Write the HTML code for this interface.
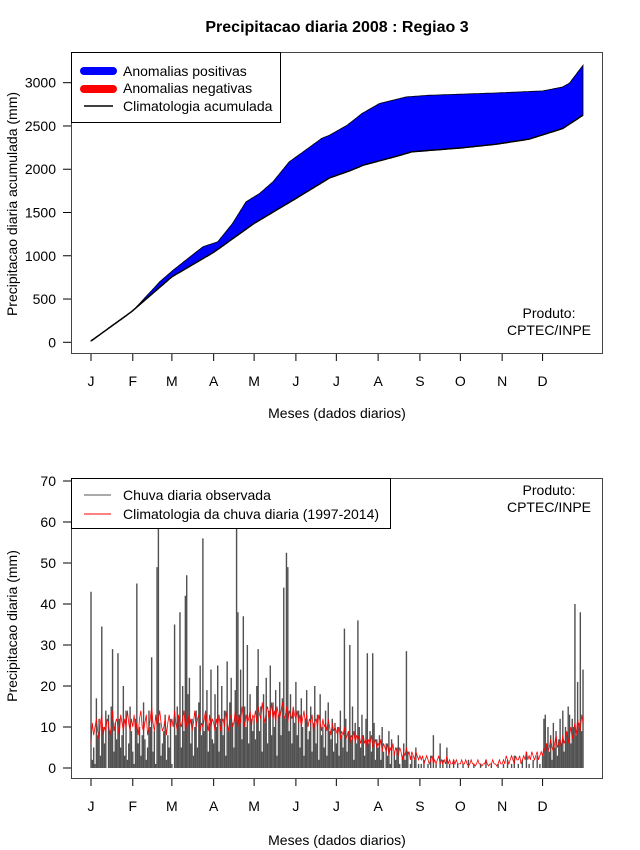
<!DOCTYPE html>
<html><head><meta charset="utf-8">
<style>
html,body{margin:0;padding:0;background:#fff;}
svg{display:block;font-family:"Liberation Sans",sans-serif;}
</style></head>
<body>
<svg id="chart" width="640" height="850" viewBox="0 0 640 850" xmlns="http://www.w3.org/2000/svg">
<rect width="640" height="850" fill="#fff"/>
<text x="337" y="32" text-anchor="middle" font-size="16" font-weight="bold">Precipitacao diaria 2008 : Regiao 3</text>
<g id="topPanel"></g>
<g id="botPanel"></g>
</svg>
<script>
const monthLabels = ["J","F","M","A","M","J","J","A","S","O","N","D"];
const monthStartDays = [1,32,61,92,122,153,183,214,245,275,306,336];
const topTicks = [0,500,1000,1500,2000,2500,3000];
const botTicks = [0,10,20,30,40,50,60,70];
const obsCumDays = [1,28,52,62,72,84,95,106,116,126,136,148,155,172,178,191,202,215,235,252,302,336,351,356,366];
const obsCumVals = [20,296,700,835,958,1104,1162,1374,1624,1720,1855,2086,2163,2356,2394,2509,2644,2760,2836,2855,2882,2905,2951,2997,3202];
const climCumDays = [1,31,61,92,122,153,178,193,203,228,239,276,302,326,351,366];
const climCumVals = [15,353,757,1040,1374,1662,1900,1982,2047,2151,2201,2247,2290,2348,2471,2625];
const obsDaily = [].concat(
[43,2,5,1,17,8,12,3,34.5,10,6,14,0,13,9,15,29,4,11,7,28,12,5,8,20,3,14,2,6,15,9],
[4,1,12,45,6,10,3,8,16,7,2,5,14,10,27,4,9,1,49,72,11,3,6,9,13,2,8,5,12],
[1,0,35,8,15,12,38,5,20,9,42,47,18,22,6,12,3,10,14,5,16,25,8,56,9,13,19,4,11,24,7],
[6,18,10,25,4,12,20,8,14,3,26,9,16,22,11,5,19,72,38,13,24,7,37,15,10,30,6,18,12,9],
[12,7,20,29,9,15,4,18,11,22,6,14,25,8,16,10,19,3,13,21,8,17,44,12,52.5,49,9,18,6,14,11],
[21,8,14,5,17,10,3,12,19,7,9,15,4,11,20,6,13,2,18,8,10,5,14,3,16,9,7,12,4,11],
[6,10,3,14,8,5,34,12,4,9,30,7,15,2,11,6,36,10,5,13,8,3,12,28,6,9,4,28,11,2,7],
[5,8,2,10,4,0,6,3,9,1,7,0,4,2,5,8,1,0,3,6,2,28.5,4,0,1,3,0,2,5,0,1],
[0,1,0,2,0,0,1,0,3,0,8,0,1,0,0,6,0,2,0,0,5,0,1,0,0,2,0,0,1,0],
[0,0,1,0,0,0,2,0,0,0,1,0,0,0,0,1,0,0,0,2,0,0,0,1,0,0,0,0,1,0,0],
[0,1,0,0,2,0,0,1,0,3,0,0,1,0,0,2,0,0,4,0,1,0,0,2,0,0,3,0,1,0],
[3,12,13,6,10,4,8,2,11,5,9,3,7,12,6,14,4,10,8,15,13,6,12,10,40,8,21,11,38,9,24]);
const climDaily = [].concat(
[6,11,8,10,12,9,7,11,13,8,10,9,12,11,8,10,14,9,11,12,10,8,13,11,9,12,10,14,11,9,12],
[10,13,9,11,8,12,14,10,9,11,13,8,10,12,15,11,9,13,10,12,14,11,9,10,12,8,11,13,10],
[12,10,14,11,9,13,11,10,12,14,9,11,13,10,12,9,11,14,10,12,13,9,11,10,12,14,11,9,13,10,12],
[11,9,12,10,13,9,11,12,10,14,11,9,12,13,10,11,14,12,10,13,11,15,12,10,13,11,12,14,10,13],
[12,14,11,15,13,12,16,13,11,14,15,12,13,16,12,14,11,15,13,12,14,16,13,12,15,11,14,13,12,15,13],
[12,14,11,13,10,12,14,11,13,10,12,11,13,9,11,12,10,13,11,9,12,10,11,9,12,10,8,11,9,10],
[9,8,10,7,9,8,10,7,8,9,6,8,7,9,6,8,7,8,6,7,8,6,7,5,7,6,8,5,6,7,5],
[6,5,7,4,6,5,4,6,3,5,4,6,3,5,4,3,5,4,2,4,3,5,3,4,2,4,3,2,4,3,2],
[3,2,3,1,2,3,2,1,2,3,1,2,1,2,3,1,2,1,2,1,3,1,2,1,1,2,1,2,1,1],
[1,2,1,1,2,1,0.5,1,2,1,1,0.5,1,2,1,1,0.5,1,1,2,1,0.5,1,1,2,1,1,0.5,1,2,1],
[1,2,1,3,2,1,2,3,2,1,3,2,2,3,1,2,3,2,4,2,3,2,4,3,2,3,4,2,3,4],
[3,5,4,6,4,5,7,5,4,6,8,5,6,7,5,8,6,7,9,6,8,10,7,9,11,8,12,10,9,13,11]);

const NS="http://www.w3.org/2000/svg";
function mk(parent,tag,attrs,text){const e=document.createElementNS(NS,tag);for(const k in attrs)e.setAttribute(k,attrs[k]);if(text!==undefined)e.textContent=text;parent.appendChild(e);return e;}
const xDay = d => 91 + (d-1)*1.348;
const yTop = v => 342.3 - v*(259.6/3000);
const yBot = v => 768 - v*(287/70);
function interp(days, vals, d){
  for(let i=0;i<days.length-1;i++){ if(d>=days[i]&&d<=days[i+1]){const t=(d-days[i])/(days[i+1]-days[i]);return vals[i]+t*(vals[i+1]-vals[i]);} }
  return vals[vals.length-1];
}
function axes(g, boxBot, ticks, yFn, ylabel, ylabelY, xlabelY){
  for(let i=0;i<monthLabels.length;i++){
    const x=xDay(monthStartDays[i]);
    const t=mk(g,'line',{x1:x,x2:x,y1:boxBot,y2:boxBot+7,stroke:'#000','stroke-width':1});
    
    
    const l=mk(g,'text',{x:x,y:boxBot+32,'text-anchor':'middle','font-size':14},monthLabels[i]);
    
    
  }
  for(const v of ticks){
    const y=yFn(v);
    const t=mk(g,'line',{x1:63,x2:71,y1:y,y2:y,stroke:'#000','stroke-width':1});
    
    
    const l=mk(g,'text',{x:56,y:y+5,'text-anchor':'end','font-size':14},String(v));
    
    
  }
  const yl=mk(g,'text',{x:0,y:0,transform:`translate(17,${ylabelY}) rotate(-90)`,'text-anchor':'middle','font-size':14},ylabel);
  
  
  const xl=mk(g,'text',{x:337,y:xlabelY,'text-anchor':'middle','font-size':14},'Meses (dados diarios)');
  
  
}
// TOP PANEL
const topG=document.getElementById('topPanel');
const upper=[], lower=[];
for(let d=1; d<=366; d++){ upper.push([xDay(d), yTop(Math.max(interp(obsCumDays,obsCumVals,d),interp(climCumDays,climCumVals,d)))]); lower.push([xDay(d), yTop(interp(climCumDays,climCumVals,d))]); }
const polyPts = upper.concat(lower.slice().reverse()).map(p=>p[0].toFixed(1)+','+p[1].toFixed(1)).join(' ');
const area=mk(topG,'polygon',{points:polyPts,fill:'#0000ff',stroke:'#000','stroke-width':0.8});


const climLine=mk(topG,'polyline',{points:lower.map(p=>p[0].toFixed(1)+','+p[1].toFixed(1)).join(' '),fill:'none',stroke:'#000','stroke-width':1.5});


const box1=mk(topG,'rect',{x:71.5,y:52.5,width:531,height:301,fill:'none',stroke:'#444','stroke-width':1});


axes(topG,354,topTicks,yTop,'Precipitacao diaria acumulada (mm)',204,418);
const lg1=mk(topG,'g',{});


mk(lg1,'rect',{x:71.5,y:52.5,width:209,height:70,fill:'#fff',stroke:'#000','stroke-width':1});
mk(lg1,'line',{x1:84,x2:113,y1:71,y2:71,stroke:'#0000ff','stroke-width':8,'stroke-linecap':'round'});
mk(lg1,'line',{x1:84,x2:113,y1:89,y2:89,stroke:'#ff0000','stroke-width':8,'stroke-linecap':'round'});
mk(lg1,'line',{x1:84,x2:113,y1:106,y2:106,stroke:'#000','stroke-width':1.5});
mk(lg1,'text',{x:123,y:76,'font-size':14},'Anomalias positivas');
mk(lg1,'text',{x:123,y:93,'font-size':14},'Anomalias negativas');
mk(lg1,'text',{x:123,y:111,'font-size':14},'Climatologia acumulada');
const pr1=mk(topG,'text',{x:549,y:318,'text-anchor':'middle','font-size':14},'Produto:');


mk(topG,'text',{x:549,y:335,'text-anchor':'middle','font-size':14},'CPTEC/INPE');

// BOTTOM PANEL
const botG=document.getElementById('botPanel');
const cp=mk(botG,'clipPath',{id:'clipB'});
mk(cp,'rect',{x:72,y:478,width:530,height:300});
const bars=mk(botG,'g',{'clip-path':'url(#clipB)'});


obsDaily.forEach((v,i)=>{
  const x=xDay(i+1);
  const b=mk(bars,'line',{x1:x,x2:x,y1:yBot(0),y2:yBot(v),stroke:'#505050','stroke-width':1.4});
  
  
});
const cl=mk(botG,'polyline',{points:climDaily.map((v,i)=>xDay(i+1).toFixed(1)+','+yBot(v).toFixed(1)).join(' '),fill:'none',stroke:'#ff0000','stroke-width':0.8});


const box2=mk(botG,'rect',{x:71.5,y:478.5,width:531,height:300,fill:'none',stroke:'#444','stroke-width':1});


axes(botG,779,botTicks,yBot,'Precipitacao diaria (mm)',626,845);
const lg2=mk(botG,'g',{});


mk(lg2,'rect',{x:71.5,y:478.5,width:319,height:50,fill:'#fff',stroke:'#000','stroke-width':1});
mk(lg2,'line',{x1:84,x2:111,y1:495,y2:495,stroke:'#555','stroke-width':1});
mk(lg2,'line',{x1:84,x2:111,y1:514,y2:514,stroke:'#ff0000','stroke-width':1});
mk(lg2,'text',{x:123,y:500,'font-size':14},'Chuva diaria observada');
mk(lg2,'text',{x:123,y:519,'font-size':14},'Climatologia da chuva diaria (1997-2014)');
const pr2=mk(botG,'text',{x:549,y:495,'text-anchor':'middle','font-size':14},'Produto:');


mk(botG,'text',{x:549,y:512,'text-anchor':'middle','font-size':14},'CPTEC/INPE');
</script>
</body></html>
